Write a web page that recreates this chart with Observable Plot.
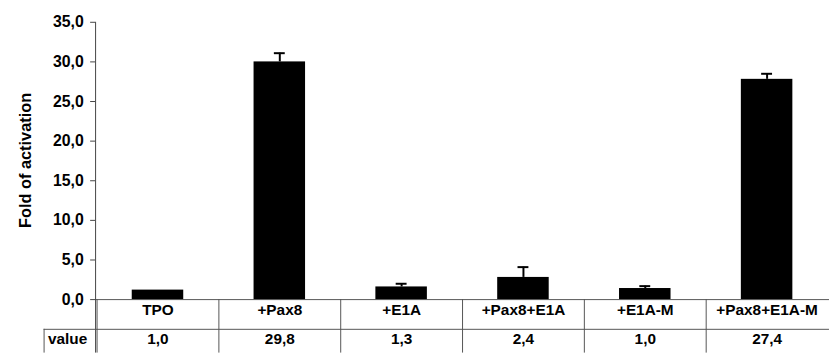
<!DOCTYPE html>
<html>
<head>
<meta charset="utf-8">
<script src="https://cdn.jsdelivr.net/npm/d3@7"></script>
<script src="https://cdn.jsdelivr.net/npm/@observablehq/plot@0.6"></script>
<style>
  html, body { margin: 0; padding: 0; background: white; overflow: hidden; }
  #chart { width: 829px; height: 356px; overflow: hidden; }
</style>
</head>
<body>
<div id="chart"></div>
<script>
const categories = ["TPO", "+Pax8", "+E1A", "+Pax8+E1A", "+E1A-M", "+Pax8+E1A-M"];
const barHeights = [1.2, 30.0, 1.6, 2.8, 1.4, 27.8];
const errors = [0, 1.1, 0.4, 1.3, 0.3, 0.7];
const valueLabels = ["1,0", "29,8", "1,3", "2,4", "1,0", "27,4"];
const yTicks = [0, 5, 10, 15, 20, 25, 30, 35];

const data = categories.map((c, i) => ({cat: c, h: barHeights[i], e: errors[i], label: valueLabels[i]}));
const withErr = data.filter(d => d.e > 0);
const fmt = d => d.toFixed(1).replace(".", ",");

const W = 837, H = 356, ML = 96, MT = 22, MB = 54;

const plot = Plot.plot({
  width: W, height: H,
  marginLeft: ML, marginRight: 0, marginTop: MT, marginBottom: MB,
  style: {fontFamily: "'Liberation Sans', Arial, sans-serif", fontWeight: "bold", background: "white", color: "black", overflow: "visible"},
  x: {domain: categories, paddingInner: 0.58, paddingOuter: 0.29, axis: null},
  y: {domain: [0, 35], axis: null},
  marks: [
    Plot.axisY({ticks: yTicks, tickFormat: fmt, tickSize: 5, tickPadding: 7, fontSize: 16, label: null, stroke: "#444"}),
    Plot.ruleY([0], {stroke: "#555"}),
    Plot.barY(data, {x: "cat", y: "h", fill: "black"}),
    Plot.ruleX(withErr, {x: "cat", y1: "h", y2: d => d.h + d.e, stroke: "black", strokeWidth: 2}),
    Plot.tickY(withErr, {x: "cat", y: d => d.h + d.e, stroke: "black", strokeWidth: 2, insetLeft: 20.5, insetRight: 20.5}),
    Plot.text(data, {x: "cat", text: "cat", frameAnchor: "bottom", dy: 16, fontSize: 15.5, fontWeight: "bold"}),
    Plot.text(data, {x: "cat", text: "label", frameAnchor: "bottom", dy: 45, fontSize: 15.5, fontWeight: "bold"}),
    Plot.text(["value"], {frameAnchor: "bottom-left", textAnchor: "start", dx: -48, dy: 45, fontSize: 15.5, fontWeight: "bold"})
  ]
});

document.getElementById("chart").appendChild(plot);

// table grid and axis line drawn from Plot's own scales
const xs = plot.scale("x");
const ys = plot.scale("y");
const svg = d3.select(plot);
const g = svg.append("g").attr("stroke", "#555").attr("stroke-width", 1).attr("fill", "none");
const y0 = ys.apply(0);
const yTop = ys.apply(35);
const rowLine = y0 + 30;
// y axis line through table
g.append("line").attr("x1", ML + 0.5).attr("x2", ML + 0.5).attr("y1", yTop).attr("y2", H).attr("stroke", "#444");
// band boundaries
categories.forEach(c => {
  const x = xs.apply(c) - (xs.step - xs.bandwidth) / 2;
  g.append("line").attr("x1", x + 0.5).attr("x2", x + 0.5).attr("y1", y0).attr("y2", H);
});
// row separator and value-cell box
g.append("line").attr("x1", 44).attr("x2", W).attr("y1", rowLine + 0.5).attr("y2", rowLine + 0.5);
g.append("line").attr("x1", 44.5).attr("x2", 44.5).attr("y1", rowLine).attr("y2", H);

// y title
svg.append("text")
  .attr("transform", `translate(31, ${(yTop + y0) / 2}) rotate(-90)`)
  .attr("text-anchor", "middle")
  .attr("font-family", "'Liberation Sans', Arial, sans-serif")
  .attr("font-weight", "bold")
  .attr("font-size", 16.5)
  .attr("fill", "black")
  .text("Fold of activation");
</script>
</body>
</html>
